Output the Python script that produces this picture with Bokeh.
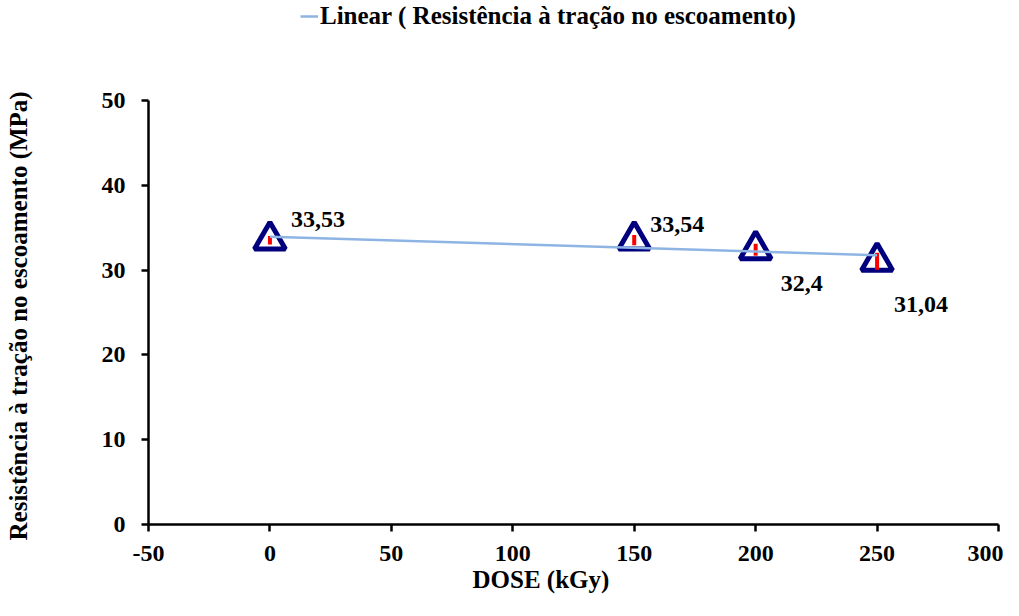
import numpy as np
from bokeh.plotting import figure
from bokeh.models import (Range1d, ColumnDataSource, LabelSet, Legend, LegendItem,
                          FixedTicker, Title)
from bokeh.embed import file_html
from bokeh.resources import INLINE

# ---- data ----
dose = [0, 150, 200, 250]
resist = [33.53, 33.54, 32.4, 31.04]
err = [0.5, 0.6, 0.7, 1.0]
labels = [f"{v}".replace(".", ",") for v in resist]
x_ticks = [-50, 0, 50, 100, 150, 200, 250, 300]
y_ticks = [0, 10, 20, 30, 40, 50]
legend_text = "Linear ( Resistência à tração no escoamento)"
x_title = "DOSE (kGy)"
y_title = "Resistência à tração no escoamento (MPa)"

# label offsets (screen px): style only
lab_dx = [21, 16, 25, 17]
lab_dy = [21, 16, -34, -43]

FONT = "Liberation Serif"
FS = "24px"
TREND_COLOR = "#8EB4E3"
W, H = 1003, 600
LEFT, RIGHT, BOTTOM = 148, 5, 76          # borders (px)
AXIS_TOP_PX = 100                          # pixel row of y = 50
X0, X1, Y0, Y1 = -50, 300, 0, 50
px_per_unit = (H - BOTTOM - AXIS_TOP_PX) / (Y1 - Y0)
y_end = Y1 + AXIS_TOP_PX / px_per_unit     # frame reaches the top of the canvas

p = figure(width=W, height=H, output_backend="svg", toolbar_location=None,
           x_range=Range1d(X0, X1), y_range=Range1d(Y0, y_end),
           min_border_left=LEFT, min_border_right=RIGHT, min_border_top=0,
           min_border_bottom=BOTTOM)
p.outline_line_color = None
p.xgrid.visible = False
p.ygrid.visible = False

def style_axis(ax, ticks):
    ax.ticker = FixedTicker(ticks=ticks)
    ax.major_label_overrides = {t: str(t) for t in ticks}
    ax.axis_line_width = 2.5
    ax.axis_line_color = "black"
    ax.major_tick_line_width = 2.5
    ax.major_tick_out = 7
    ax.major_tick_in = 0
    ax.minor_tick_out = 0
    ax.minor_tick_in = 0
    ax.major_label_text_font = FONT
    ax.major_label_text_font_style = "bold"
    ax.major_label_text_font_size = FS
    ax.major_label_text_color = "black"

style_axis(p.xaxis[0], x_ticks)
style_axis(p.yaxis[0], y_ticks)
p.yaxis.bounds = (Y0, Y1)
p.xaxis.major_label_standoff = 14
p.yaxis.major_label_standoff = 16

# axis titles as side-panel titles (so they can be placed like the reference)
spacer = Title(text="\u00a0", standoff=38, text_font=FONT, text_font_size="25px")
p.add_layout(spacer, "left")
ytitle = Title(text=y_title, align="left", offset=-16, standoff=0,
               text_font=FONT, text_font_style="bold", text_font_size="25px",
               text_color="black")
p.add_layout(ytitle, "left")
xtitle = Title(text=x_title, align="left", offset=324, standoff=0,
               text_font=FONT, text_font_style="bold", text_font_size="25px",
               text_color="black")
p.add_layout(xtitle, "below")

src = ColumnDataSource(dict(x=dose, y=resist, lo=[a - b for a, b in zip(resist, err)],
                            hi=[a + b for a, b in zip(resist, err)], lab=labels,
                            dx=lab_dx, dy=lab_dy))

p.scatter("x", "y", source=src, marker="triangle", size=31, line_width=5,
          line_color="#00007F", fill_color="white")
p.segment(x0="x", y0="lo", x1="x", y1="hi", source=src, line_color="#FF0000", line_width=4)

# linear trend line
coef = np.polyfit(dose, resist, 1)
tx = [min(dose), max(dose)]
ty = [coef[0] * t + coef[1] for t in tx]
trend = p.line(tx, ty, line_color=TREND_COLOR, line_width=2.5)

p.add_layout(LabelSet(x="x", y="y", text="lab", source=src, x_offset="dx", y_offset="dy",
                      text_font=FONT, text_font_style="bold", text_font_size=FS,
                      text_color="black", text_baseline="middle", text_align="left"))

frame_h = H - BOTTOM
legend = Legend(items=[LegendItem(label=legend_text, renderers=[trend])],
                location=(300 - LEFT, frame_h - 30), padding=0, margin=0, spacing=0,
                glyph_width=18, glyph_height=24, label_height=24, label_standoff=2,
                border_line_color=None, background_fill_alpha=0,
                label_text_font=FONT, label_text_font_style="bold",
                label_text_font_size="25px", label_text_color="black")
p.add_layout(legend, "center")

open("out.html", "w").write(file_html(p, INLINE))
